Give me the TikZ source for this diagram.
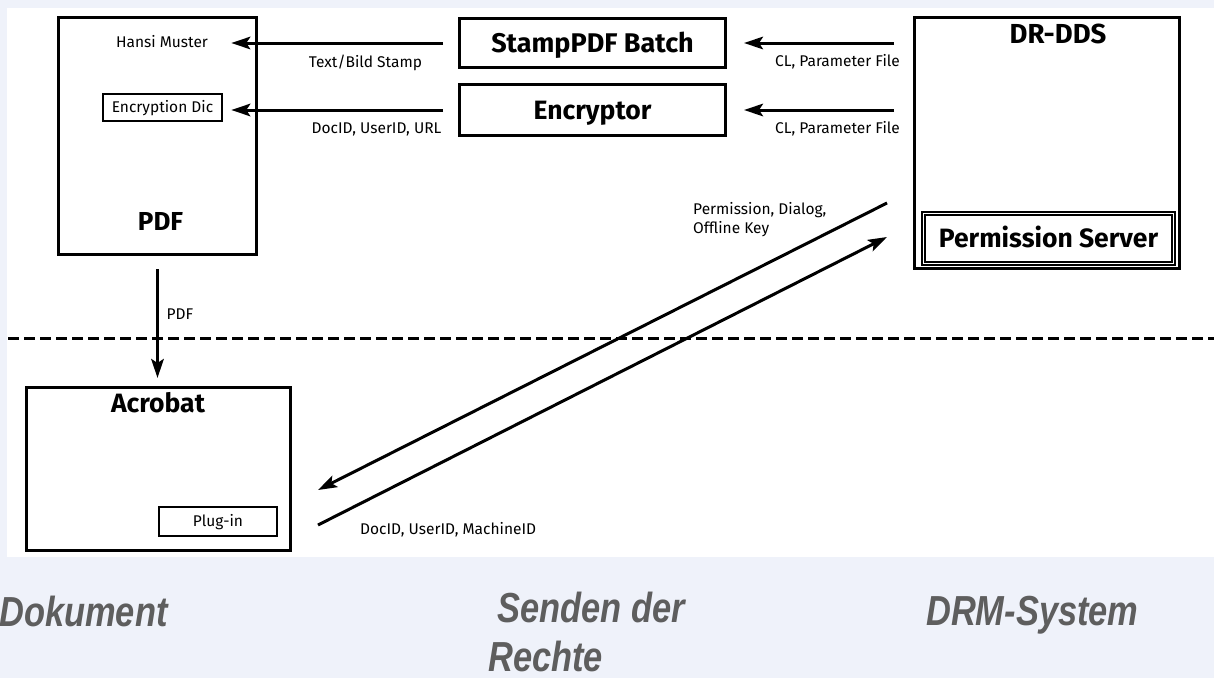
\documentclass[tikz,border=0pt]{standalone}
\usepackage{fontspec}
\setmainfont{Fira Sans}
\newfontfamily\capfont[FakeStretch=0.82]{Liberation Sans}
\usetikzlibrary{arrows.meta}
\definecolor{bgc}{HTML}{EFF2FA}
\definecolor{capc}{HTML}{5E5E5E}
\tikzset{
  box/.style={draw=black, line width=3pt, fill=white, inner sep=0pt},
  dbox/.style={draw=black, line width=1.6pt, double=white, double distance=1.6pt, fill=white, inner sep=0pt},
  titletxt/.style={font=\fontsize{#1}{#1}\selectfont\bfseries, text height=0.689*#1 pt, text depth=0pt},
  lbl/.style={font=\fontsize{15.5}{19}\selectfont, inner sep=0pt},
  lblc/.style={lbl, text height=10.7pt, text depth=0pt},
  captxt/.style={font=\capfont\fontsize{42}{49}\selectfont\bfseries\itshape, text=capc, inner sep=0pt},
  arr/.style={line width=3pt, -{Stealth[length=19pt,width=12.5pt,inset=4pt]}},
  sepline/.style={line width=3pt, dash pattern=on 11pt off 5pt},
}
\begin{document}
\begin{tikzpicture}[x=1pt,y=-1pt]
\fill[bgc] (0,0) rectangle (1214,678);
\fill[white] (7,8) rectangle (1214,557);
\useasboundingbox (0,0) rectangle (1214,678);

% Document side
\node[box, minimum width=198pt, minimum height=237pt] (pdf) at (157.5,136) {};
\node[lbl, anchor=base] (hansi) at (162,47) {Hansi Muster};
\node[box, line width=2.6pt, minimum width=119pt, minimum height=27pt, lblc] (encdic) at (162.5,107.5) {Encryption Dic};
\node[titletxt=26, inner sep=0pt, anchor=base] (pdflbl) at (160.5,230) {PDF};

% middle tools
\node[box, minimum width=266pt, minimum height=49pt, titletxt=27] (stamp) at (592.5,43) {StampPDF Batch};
\node[box, minimum width=266pt, minimum height=51pt, titletxt=26.5] (encr) at (592.5,110) {Encryptor};

% DRM system
\node[box, minimum width=265pt, minimum height=251pt] (drdds) at (1047,143) {};
\node[titletxt=27.5, inner sep=0pt, anchor=base] (drlbl) at (1058,43) {DR-DDS};
\node[dbox, minimum width=250pt, minimum height=50pt, titletxt=26.5] (ps) at (1048.5,238.5) {Permission Server};

% Acrobat
\node[box, minimum width=264pt, minimum height=163pt] (acro) at (158.5,469) {};
\node[titletxt=26.5, inner sep=0pt, anchor=base] (acrolbl) at (158,412) {Acrobat};
\node[box, line width=2.6pt, minimum width=118pt, minimum height=29pt, lblc] (plug) at (218,521.5) {Plug-in};

% horizontal arrows
\draw[arr, shorten <=15pt, shorten >=8pt] (stamp.west) -- (stamp.west -| encdic.east);
\draw[arr, shorten <=15pt, shorten >=8pt] (encr.west) -- (encr.west -| encdic.east);
\draw[arr, shorten <=19pt, shorten >=17pt] (stamp.east -| drdds.west) -- (stamp.east);
\draw[arr, shorten <=19pt, shorten >=17pt] (encr.east -| drdds.west) -- (encr.east);

\node[lbl, anchor=base] (l1) at (365.5,67) {Text/Bild Stamp};
\node[lbl, anchor=base] (l2) at (376.5,133) {DocID, UserID, URL};
\node[lbl, anchor=base] (l3) at (837.5,66) {CL, Parameter File};
\node[lbl, anchor=base] (l4) at (837.5,133) {CL, Parameter File};

% PDF to Acrobat
\draw[arr, shorten <=13pt, shorten >=8pt] (pdf.south) -- (pdf.south |- acro.north);
\node[lbl, anchor=base west] (l5) at (166.5,319) {PDF};

% separator
\coordinate (sl) at (8,338);
\coordinate (sr) at (1214,338);
\draw[sepline] (sl) -- (sr);

% diagonal arrows
\coordinate (p1) at (887,203);
\coordinate (p2) at (318,490);
\coordinate (q1) at (318,525);
\coordinate (q2) at (887,237);
\draw[arr] (p1) -- (p2);
\draw[arr] (q1) -- (q2);
\node[lbl, anchor=north west, align=left] (l6) at (693,202) {Permission, Dialog,\\Offline Key};
\node[lbl, anchor=base west] (l7) at (360,534) {DocID, UserID, MachineID};

% captions
\node[captxt, anchor=base west] (c1) at (-1,626) {Dokument};
\node[captxt, anchor=north west, align=left, text depth=0pt] (c2) at (488,592) {\hspace*{9pt}Senden der\\Rechte};
\node[captxt, anchor=base west] (c3) at (926,625) {DRM-System};
\end{tikzpicture}
\end{document}
